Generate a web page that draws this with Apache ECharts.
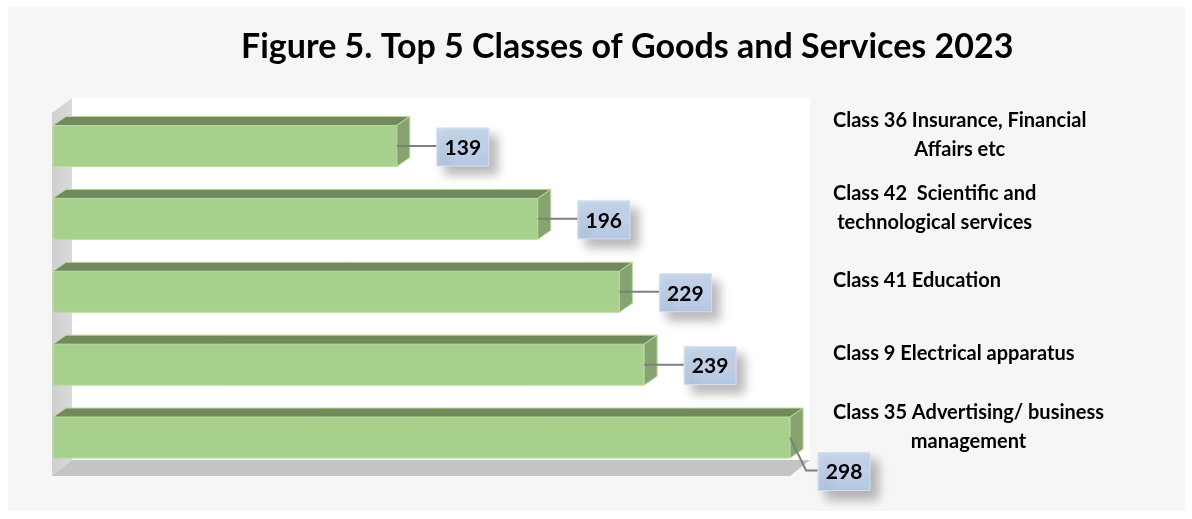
<!DOCTYPE html>
<html>
<head>
<meta charset="utf-8">
<script src="https://cdn.jsdelivr.net/npm/echarts@6/dist/echarts.min.js"></script>
<style>
  html, body { margin: 0; padding: 0; background: #ffffff; }
  #main { width: 1192px; height: 519px; }
</style>
</head>
<body>
<div id="main"></div>
<script>
// data, top bar first
const categories = [
  'Class 36 Insurance, Financial\nAffairs etc',
  'Class 42  Scientific and\ntechnological services',
  'Class 41 Education',
  'Class 9 Electrical apparatus',
  'Class 35 Advertising/ business\nmanagement'
];
const values = [139, 196, 229, 239, 298];
const titleText = 'Figure 5. Top 5 Classes of Goods and Services 2023';

const chart = echarts.init(document.getElementById('main'));

// depth of the fake 3d bars
const DX = 13, DY = 9;
const BAR_H = 41;

function renderBar(params, api) {
  const i = api.value(1);
  const v = api.value(0);
  const start = api.coord([0, i]);
  const end = api.coord([v, i]);
  const cs = params.coordSys;
  const x0 = start[0], x1 = end[0], yc = end[1];
  const yt = yc - BAR_H / 2, yb = yc + BAR_H / 2;
  const edge = { stroke: '#b9dba3', lineWidth: 1 };

  // label box: right of the bar, or below it when there is no room
  const bw = 52, bh = 38;
  let bx, by, line;
  if (x1 + 40 + bw > cs.x + cs.width) {
    bx = x1 + 28; by = yc + 15;
    line = [[x1, yc], [x1 + 16, yc + 33], [bx, yc + 33]];
  } else {
    bx = x1 + 40; by = yc - bh / 2 + 1;
    line = [[x1, yc], [bx, yc]];
  }

  return {
    type: 'group',
    children: [
      { type: 'rect', shape: { x: x0, y: yt, width: x1 - x0, height: BAR_H },
        style: Object.assign({ fill: '#a8d08d' }, edge) },
      { type: 'polygon', shape: { points: [[x0, yt], [x1, yt], [x1 + DX, yt - DY], [x0 + DX, yt - DY]] },
        style: Object.assign({ fill: '#71895b' }, edge) },
      { type: 'polygon', shape: { points: [[x1, yt], [x1 + DX, yt - DY], [x1 + DX, yb - DY], [x1, yb]] },
        style: Object.assign({ fill: '#87a36f' }, edge) },
      { type: 'polyline', shape: { points: line },
        style: { stroke: '#7f7f7f', lineWidth: 2, fill: null } },
      { type: 'rect', shape: { x: bx, y: by, width: bw, height: bh },
        style: {
          fill: new echarts.graphic.LinearGradient(0, 0, 0, 1, [
            { offset: 0, color: '#c9d8ec' }, { offset: 1, color: '#b4c7e2' }
          ]),
          stroke: '#d5e0ef', lineWidth: 1,
          shadowBlur: 10, shadowOffsetX: 8, shadowOffsetY: 8, shadowColor: 'rgba(0,0,0,0.28)'
        } },
      { type: 'text', style: {
          text: String(v), x: bx + bw / 2, y: by + bh / 2 + 1,
          align: 'center', verticalAlign: 'middle',
          font: 'bold 21px Lato', fill: '#000000'
        } }
    ]
  };
}

const option = {
  backgroundColor: '#ffffff',
  animation: false,
  title: {
    text: titleText,
    left: 236,
    top: 25,
    textStyle: { fontFamily: 'Lato', fontWeight: 'bold', fontSize: 34, color: '#000000' }
  },
  graphic: [
    { type: 'rect', z: -10, shape: { x: 8, y: 7, width: 1177, height: 504 }, style: { fill: '#f6f6f6' } },
    { type: 'rect', z: -9, shape: { x: 72, y: 98, width: 738, height: 362 }, style: { fill: '#ffffff' } },
    { type: 'polygon', z: -9, shape: { points: [[52, 113], [72, 98], [72, 460], [52, 476]] },
      style: { fill: new echarts.graphic.LinearGradient(0, 0, 1, 0, [
        { offset: 0, color: '#cfcfcf' }, { offset: 1, color: '#dadada' }
      ]) } },
    { type: 'polygon', z: -9, shape: { points: [[52, 476], [72, 460], [810, 460], [790, 476]] },
      style: { fill: '#c4c4c4' } }
  ],
  grid: { left: 53, top: 109.5, width: 742, height: 364.5 },
  xAxis: { type: 'value', min: 0, max: 300, show: false },
  yAxis: {
    type: 'category',
    data: categories,
    inverse: true,
    position: 'right',
    axisLine: { show: false },
    axisTick: { show: false },
    splitLine: { show: false },
    axisLabel: {
      margin: 38,
      align: 'left',
      padding: [0, 0, 22, 0],
      formatter: function (s) {
        return s.split('\n').map(function (t) { return '{c|' + t + '}'; }).join('\n');
      },
      rich: {
        c: { align: 'center', fontFamily: 'Lato', fontWeight: 'bold', fontSize: 20, lineHeight: 29, color: '#000000' }
      }
    }
  },
  series: [{
    type: 'custom',
    renderItem: renderBar,
    encode: { x: 0, y: 1 },
    data: values.map(function (v, i) { return [v, i]; })
  }]
};

chart.setOption(option);
window.addEventListener('resize', function () { chart.resize(); });
</script>
</body>
</html>
